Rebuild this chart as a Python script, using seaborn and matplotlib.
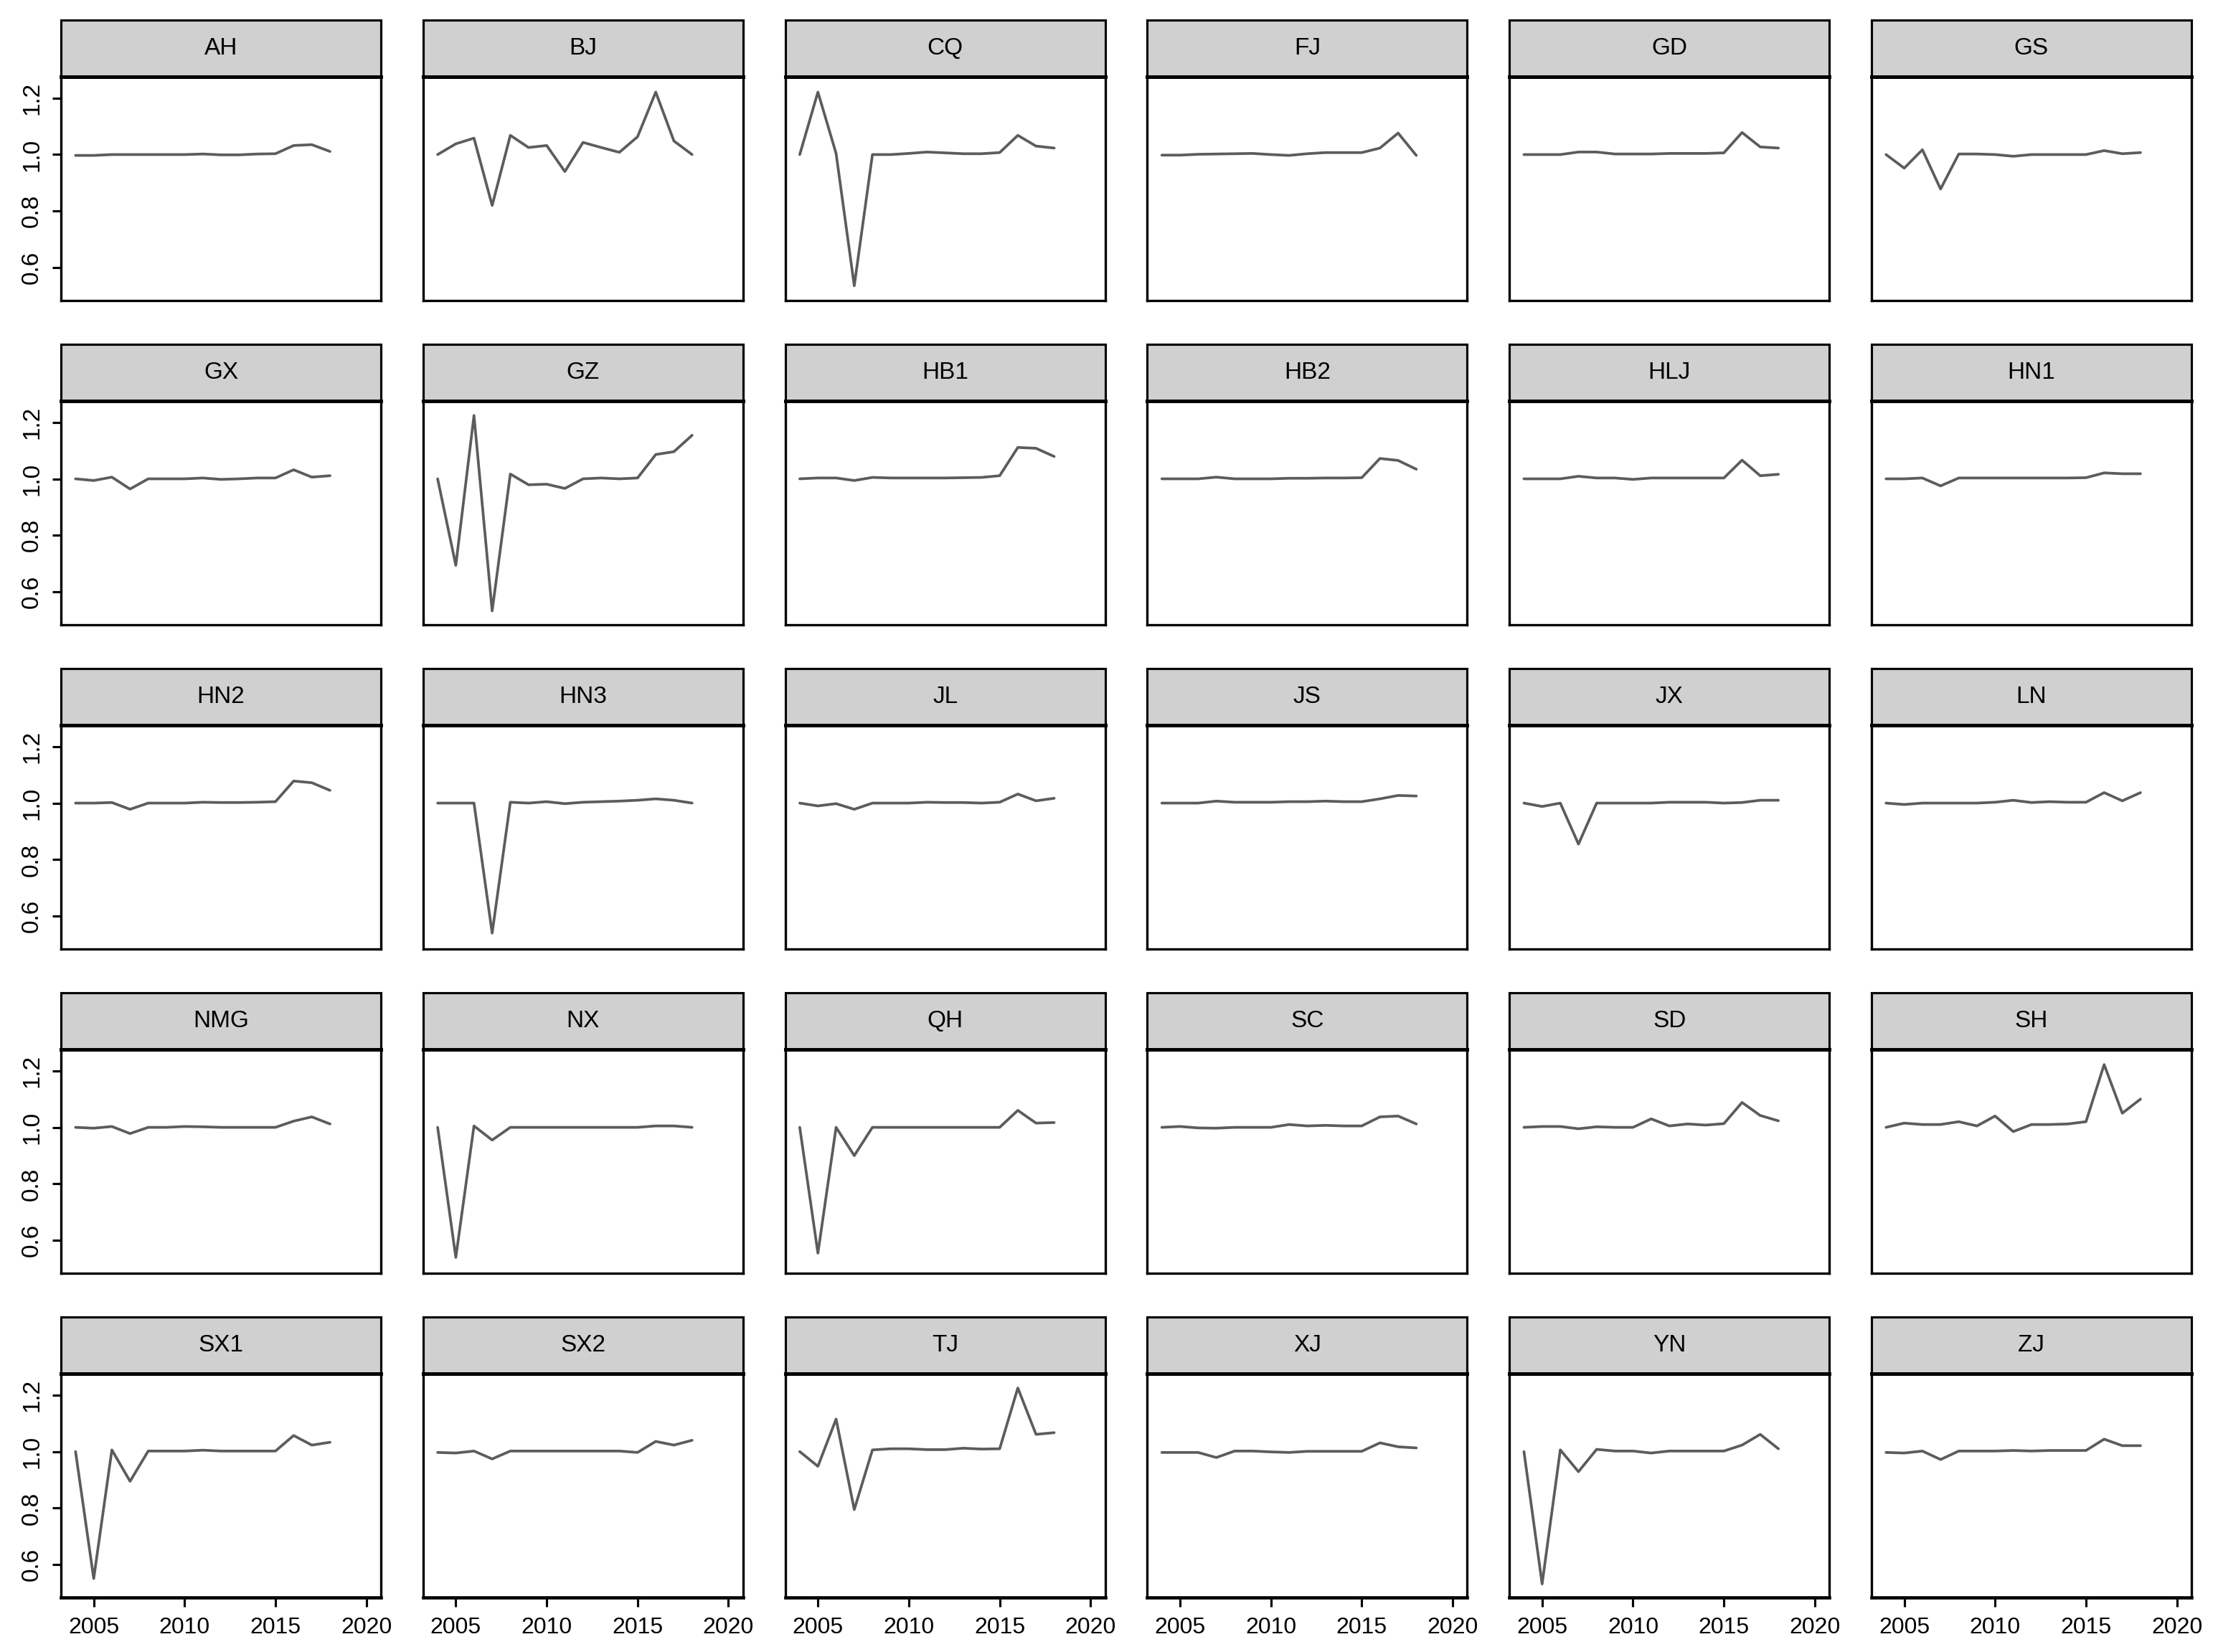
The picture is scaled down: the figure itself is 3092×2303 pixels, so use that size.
import pandas as pd
import numpy as np
import matplotlib.pyplot as plt
import seaborn as sns
from matplotlib.patches import Rectangle

# -----------------------------
# Data
# -----------------------------
years = list(range(2004, 2019))

regions = ["AH", "BJ", "CQ", "FJ", "GD", "GS",
           "GX", "GZ", "HB1", "HB2", "HLJ", "HN1",
           "HN2", "HN3", "JL", "JS", "JX", "LN",
           "NMG", "NX", "QH", "SC", "SD", "SH",
           "SX1", "SX2", "TJ", "XJ", "YN", "ZJ"]

AH = [0.997, 0.997, 1.000, 1.000, 1.000, 1.000, 1.000, 1.002, 0.999, 0.999, 1.002, 1.003, 1.032, 1.035, 1.011]
BJ = [1.000, 1.038, 1.058, 0.820, 1.068, 1.025, 1.032, 0.940, 1.043, 1.025, 1.008, 1.063, 1.221, 1.048, 1.000]
CQ = [1.000, 1.221, 1.004, 0.536, 1.000, 1.000, 1.004, 1.009, 1.006, 1.003, 1.003, 1.007, 1.068, 1.030, 1.023]
FJ = [0.998, 0.998, 1.001, 1.002, 1.003, 1.004, 1.000, 0.997, 1.003, 1.007, 1.007, 1.007, 1.023, 1.076, 0.997]
GD = [1.000, 1.000, 1.000, 1.009, 1.009, 1.002, 1.002, 1.002, 1.004, 1.004, 1.004, 1.006, 1.078, 1.027, 1.023]
GS = [1.000, 0.952, 1.017, 0.878, 1.002, 1.002, 1.000, 0.994, 1.000, 1.000, 1.000, 1.000, 1.014, 1.003, 1.007]

GX = [1.000, 0.994, 1.006, 0.964, 1.000, 1.000, 1.000, 1.003, 0.998, 1.000, 1.003, 1.003, 1.032, 1.006, 1.011]
GZ = [1.000, 0.694, 1.224, 0.533, 1.017, 0.979, 0.981, 0.966, 1.000, 1.003, 1.000, 1.003, 1.086, 1.096, 1.154]
HB1 = [1.000, 1.003, 1.003, 0.994, 1.005, 1.003, 1.003, 1.003, 1.003, 1.004, 1.005, 1.011, 1.111, 1.108, 1.079]
HB2 = [1.000, 1.000, 1.000, 1.006, 1.000, 1.000, 1.000, 1.002, 1.002, 1.003, 1.003, 1.004, 1.072, 1.065, 1.034]
HLJ = [1.000, 1.000, 1.000, 1.009, 1.003, 1.003, 0.998, 1.003, 1.003, 1.003, 1.003, 1.003, 1.066, 1.011, 1.016]
HN1 = [1.000, 1.000, 1.003, 0.975, 1.003, 1.003, 1.003, 1.003, 1.003, 1.003, 1.003, 1.004, 1.021, 1.018, 1.018]

HN2 = [1.000, 1.000, 1.002, 0.978, 1.000, 1.000, 1.000, 1.003, 1.002, 1.002, 1.003, 1.005, 1.078, 1.072, 1.045]
HN3 = [1.000, 1.000, 1.000, 0.540, 1.003, 1.000, 1.005, 0.998, 1.003, 1.005, 1.007, 1.010, 1.015, 1.010, 1.000]
JL = [1.000, 0.990, 0.998, 0.978, 1.000, 1.000, 1.000, 1.003, 1.002, 1.002, 1.000, 1.003, 1.032, 1.008, 1.017]
JS = [1.000, 1.000, 1.000, 1.007, 1.003, 1.003, 1.003, 1.005, 1.005, 1.007, 1.005, 1.005, 1.015, 1.027, 1.025]
JX = [1.000, 0.988, 1.000, 0.855, 1.000, 1.000, 1.000, 1.000, 1.003, 1.003, 1.003, 1.000, 1.002, 1.010, 1.010]
LN = [1.000, 0.995, 1.000, 1.000, 1.000, 1.000, 1.003, 1.010, 1.002, 1.005, 1.003, 1.003, 1.037, 1.008, 1.037]

NMG = [1.000, 0.997, 1.003, 0.978, 1.000, 1.000, 1.003, 1.002, 1.000, 1.000, 1.000, 1.000, 1.022, 1.037, 1.012]
NX = [1.000, 0.540, 1.005, 0.955, 1.000, 1.000, 1.000, 1.000, 1.000, 1.000, 1.000, 1.000, 1.005, 1.005, 1.000]
QH = [1.000, 0.555, 1.000, 0.900, 1.000, 1.000, 1.000, 1.000, 1.000, 1.000, 1.000, 1.000, 1.060, 1.015, 1.017]
SC = [1.000, 1.003, 0.998, 0.997, 1.000, 1.000, 1.000, 1.010, 1.005, 1.007, 1.005, 1.005, 1.037, 1.040, 1.012]
SD = [1.000, 1.003, 1.003, 0.995, 1.002, 1.000, 1.000, 1.030, 1.005, 1.012, 1.008, 1.013, 1.088, 1.042, 1.023]
SH = [1.000, 1.015, 1.010, 1.010, 1.020, 1.005, 1.040, 0.985, 1.010, 1.010, 1.012, 1.020, 1.222, 1.050, 1.100]

SX1 = [1.000, 0.551, 1.006, 0.895, 1.002, 1.002, 1.002, 1.005, 1.002, 1.002, 1.002, 1.002, 1.057, 1.023, 1.033]
SX2 = [0.997, 0.995, 1.002, 0.974, 1.002, 1.002, 1.002, 1.002, 1.002, 1.002, 1.002, 0.997, 1.036, 1.023, 1.040]
TJ = [1.000, 0.948, 1.115, 0.795, 1.006, 1.010, 1.010, 1.007, 1.007, 1.012, 1.009, 1.010, 1.225, 1.061, 1.067]
XJ = [0.997, 0.997, 0.997, 0.979, 1.002, 1.002, 0.999, 0.997, 1.001, 1.001, 1.001, 1.001, 1.031, 1.017, 1.013]
YN = [1.000, 0.532, 1.006, 0.929, 1.008, 1.002, 1.002, 0.995, 1.002, 1.002, 1.002, 1.002, 1.023, 1.061, 1.010]
ZJ = [0.997, 0.995, 1.002, 0.972, 1.002, 1.002, 1.002, 1.004, 1.002, 1.004, 1.004, 1.004, 1.044, 1.021, 1.021]

series = [AH, BJ, CQ, FJ, GD, GS, GX, GZ, HB1, HB2, HLJ, HN1,
          HN2, HN3, JL, JS, JX, LN, NMG, NX, QH, SC, SD, SH,
          SX1, SX2, TJ, XJ, YN, ZJ]

df = pd.DataFrame({
    "year": years * len(regions),
    "region": np.repeat(regions, len(years)),
    "value": np.concatenate(series),
})

x_ticks = [2005, 2010, 2015, 2020]
y_ticks = [0.6, 0.8, 1.0, 1.2]

# -----------------------------
# Plot Settings
# -----------------------------
sns.set_style("ticks")
plt.rcParams["font.family"] = ["Liberation Sans", "DejaVu Sans"]

g = sns.relplot(
    data=df,
    x="year",
    y="value",
    col="region",
    col_order=regions,
    col_wrap=6,
    kind="line",
    color="#5c5c5c",
    linewidth=0.9,
    height=1.5,
    aspect=1.43,
)

fig = g.figure
fig.set_size_inches(3092 / 300, 2303 / 300)
fig.subplots_adjust(left=0.0275, right=0.988, top=0.9535, bottom=0.033,
                    wspace=0.132, hspace=0.450)

g.set(xlim=(2003.2, 2020.8), ylim=(0.484, 1.275))
g.set_titles("")
g.set_axis_labels("", "")

ncol = 6
axes = g.axes.flatten()
for i, ax in enumerate(axes):
    row, col = divmod(i, ncol)
    first_col = col == 0
    last_row = row == len(axes) // ncol - 1

    ax.set_xticks(x_ticks)
    ax.set_yticks(y_ticks)
    ax.set_yticklabels([f"{v:.1f}" for v in y_ticks])

    ax.tick_params(axis="both", colors="black", width=0.75, length=3)
    ax.tick_params(axis="y", left=first_col, labelleft=first_col,
                   labelsize=8, labelrotation=90, pad=3)
    ax.tick_params(axis="x", bottom=last_row, labelbottom=last_row,
                   labelsize=7.7, pad=3.5)
    for lab in ax.get_yticklabels():
        lab.set_va("center")

    for side in ["left", "right", "top", "bottom"]:
        ax.spines[side].set_visible(True)
        ax.spines[side].set_color("black")
        ax.spines[side].set_linewidth(0.8)
    ax.spines["top"].set_linewidth(1.2)
    if last_row:
        ax.spines["bottom"].set_linewidth(1.1)

    # grey header strip with the panel name
    ax.add_patch(Rectangle((0, 1), 1, 0.254, transform=ax.transAxes,
                           clip_on=False, facecolor="#d0d0d0",
                           edgecolor="black", linewidth=0.75))
    ax.text(0.5, 1.127, regions[i], transform=ax.transAxes,
            ha="center", va="center", fontsize=8, color="black")

fig.savefig("out.png", dpi=300)
